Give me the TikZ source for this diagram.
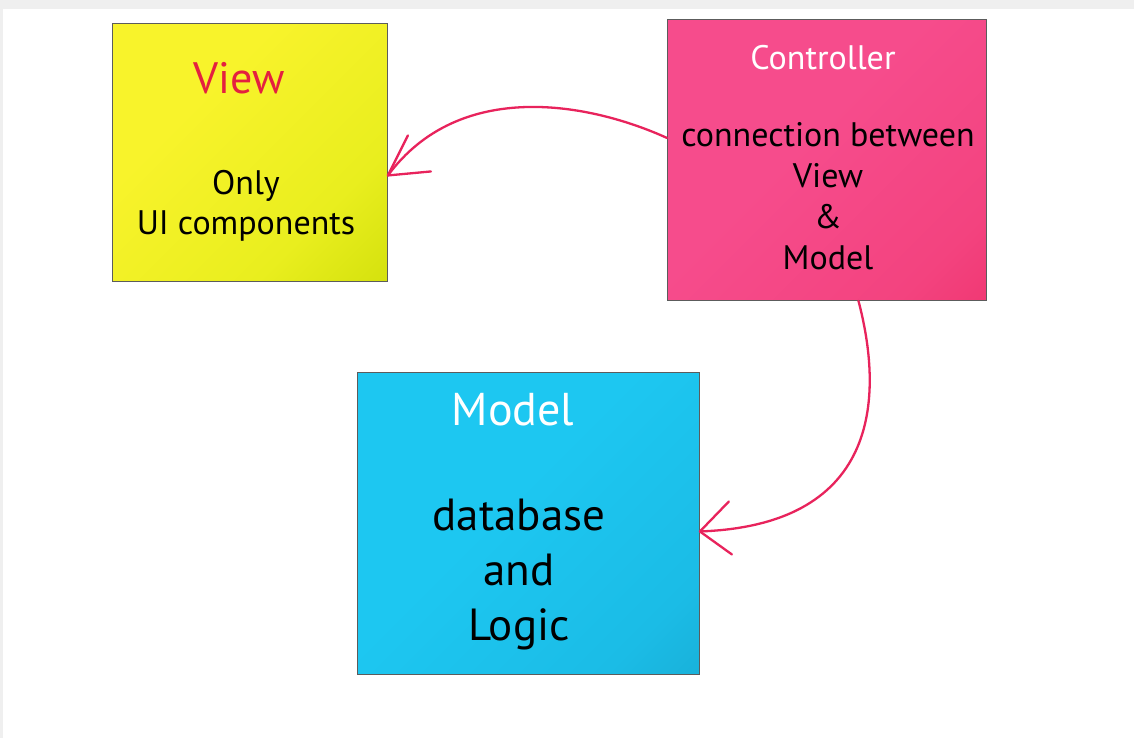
\documentclass[tikz,border=0pt]{standalone}
\usepackage{fontspec}
\setmainfont{PT Sans}
\definecolor{boxline}{HTML}{5C5C5C}
\definecolor{linkpink}{HTML}{E8235C}
\definecolor{viewred}{HTML}{E4203F}
\definecolor{framegray}{HTML}{EFEFEF}
\definecolor{yelA}{HTML}{F8F32B}
\definecolor{yelM}{HTML}{E9EE1E}
\definecolor{yelD}{HTML}{C4D700}
\definecolor{pinkA}{HTML}{F64C8C}
\definecolor{pinkM}{HTML}{F3437F}
\definecolor{pinkD}{HTML}{EE2B65}
\definecolor{cyanA}{HTML}{1DC7F1}
\definecolor{cyanM}{HTML}{1BBCE6}
\definecolor{cyanD}{HTML}{16A3CA}
% diagonal fills: flat colour over most of the box, darker towards one corner
\pgfdeclarehorizontalshading{yelfill}{100bp}{color(0bp)=(yelA); color(36bp)=(yelA); color(68bp)=(yelM); color(100bp)=(yelD)}
\pgfdeclarehorizontalshading{pinkfill}{100bp}{color(0bp)=(pinkA); color(45bp)=(pinkA); color(75bp)=(pinkM); color(100bp)=(pinkD)}
\pgfdeclarehorizontalshading{cyanfill}{100bp}{color(0bp)=(cyanA); color(45bp)=(cyanA); color(75bp)=(cyanM); color(100bp)=(cyanD)}
\begin{document}
\begin{tikzpicture}[x=1pt,y=-1pt,
  box/.style={draw=boxline, line width=0.9pt, inner sep=0pt, anchor=north west, shading angle=-45},
  title/.style={inner sep=0pt, anchor=center},
  body/.style={inner sep=0pt, anchor=center, align=center},
  link/.style={draw=linkpink, line width=2.3pt, line cap=round, line join=round},
]
\useasboundingbox (0,0) rectangle (1134,738);
\fill[white] (0,0) rectangle (1134,738);
\fill[framegray] (0,0) rectangle (1134,9);
\fill[framegray] (0,9) rectangle (3,738);

% the three components
\node[box, shading=yelfill, minimum width=275pt, minimum height=258pt] (view) at (112,23) {};
\node[box, shading=pinkfill, minimum width=319pt, minimum height=281pt] (ctrl) at (667,19) {};
\node[box, shading=cyanfill, minimum width=342pt, minimum height=302pt] (model) at (357,372) {};

% labels
\node[title, text=viewred, font=\fontsize{44}{50}\selectfont] (viewtitle) at (239,78) {View};
\node[body, font=\fontsize{34}{40}\selectfont] (viewbody) at (246,206) {Only\\UI components};

\node[title, text=white, font=\fontsize{34}{40}\selectfont] (ctrltitle) at (823,58) {Controller};
\node[body, font=\fontsize{34}{41}\selectfont] (ctrlbody) at (828,196)
  {connection between\\View\\\&\\Model};

\node[title, text=white, font=\fontsize{46}{54}\selectfont] (modeltitle) at (513,410) {Model};
\node[body, font=\fontsize{45}{55}\selectfont] (modelbody) at (519,575)
  {database\\and\\Logic};

% controller -> view
\coordinate (vtip) at ([yshift=-23pt]view.east);
\draw[link] ([yshift=22pt]ctrl.west) .. controls (590,103) and (460,78) .. (vtip);
\draw[link] ([xshift=20pt,yshift=40pt]vtip) -- (vtip) -- ([xshift=43pt,yshift=4pt]vtip);

% controller -> model
\coordinate (mtip) at ([yshift=-8pt]model.east);
\draw[link] ([xshift=31.5pt]ctrl.south) .. controls (882,390) and (885,525) .. (mtip);
\draw[link] ([xshift=29pt,yshift=30pt]mtip) -- (mtip) -- ([xshift=32pt,yshift=-23pt]mtip);
\end{tikzpicture}
\end{document}
